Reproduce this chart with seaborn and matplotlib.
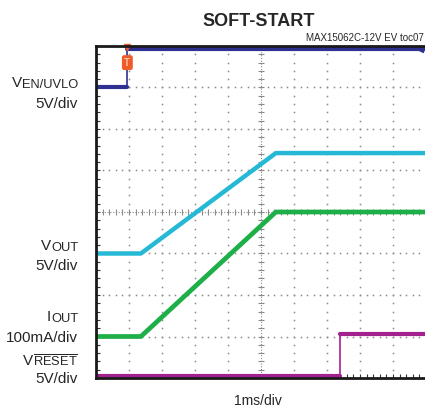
import numpy as np
import pandas as pd
import matplotlib.pyplot as plt
import seaborn as sns

# time in ms (1ms/div), trace levels in screen divisions (8 divisions tall)
ven_time = [0.0, 0.95, 0.95, 9.97]
ven_level = [7.0, 7.0, 7.93, 7.93]
vout_time = [0.0, 1.36, 5.45, 9.97]
vout_level = [3.0, 3.0, 5.42, 5.42]
iout_time = [0.0, 1.36, 5.45, 9.97]
iout_level = [1.0, 1.0, 4.0, 4.0]
reset_time = [0.0, 7.39, 7.39, 9.97]
reset_level = [0.06, 0.06, 1.06, 1.06]

c_ven = "#2E3192"
c_vout = "#25B9D5"
c_iout = "#1EAF48"
c_reset = "#A3218E"
c_grid = "#8A8A8A"

sns.set_style("white")
plt.rcParams["font.family"] = ["Liberation Sans", "DejaVu Sans"]

W, H = 425, 411
fig = plt.figure(figsize=(W / 100, H / 100), dpi=100)
ax = fig.add_axes([96 / W, 33 / H, 329 / W, 332 / H])
x_max = 329 / 33
ax.set_xlim(0, x_max)
ax.set_ylim(0, 8)

# scope graticule: dotted grid, center crosshair with small ticks
fine_x = np.arange(0.2, x_max, 0.2)
fine_y = np.arange(0.2, 8, 0.2)
for gx in range(1, 10):
    if gx == 5:
        continue
    ax.plot(np.full(len(fine_y), gx), fine_y, ls="none", marker="s", ms=1.1,
            mew=0, color=c_grid)
for gy in range(1, 8):
    if gy == 4:
        continue
    ax.plot(fine_x, np.full(len(fine_x), gy), ls="none", marker="s", ms=1.1,
            mew=0, color=c_grid)
ax.axvline(5, ls=(0, (1, 1.5)), lw=0.8, color=c_grid)
ax.axhline(4, ls=(0, (1, 1.5)), lw=0.8, color=c_grid)
ax.plot(np.full(len(fine_y), 5), fine_y, ls="none", marker="_", ms=5, mew=0.8, color=c_grid)
ax.plot(fine_x, np.full(len(fine_x), 4), ls="none", marker="|", ms=5, mew=0.8, color=c_grid)

# ramp traces
sns.lineplot(x=vout_time, y=vout_level, color=c_vout, lw=3.2, sort=False,
             estimator=None, ax=ax)
sns.lineplot(x=iout_time, y=iout_level, color=c_iout, lw=3.4, sort=False,
             estimator=None, ax=ax)

# step traces: thick levels, thin edges
for t, v, c in [(ven_time, ven_level, c_ven), (reset_time, reset_level, c_reset)]:
    sns.lineplot(x=t[:2], y=v[:2], color=c, lw=3, estimator=None, ax=ax)
    sns.lineplot(x=t[2:], y=v[2:], color=c, lw=3, estimator=None, ax=ax)
    ax.vlines(t[1], v[1], v[2], color=c, lw=1.2)

# trigger marker and channel arrow
ax.annotate("T", xy=(ven_time[1], 7.6), ha="center", va="center", fontsize=7,
            color="#FBC4A8", fontweight="bold",
            bbox=dict(boxstyle="round,pad=0.18", fc="#F05A28", ec="#F05A28"))
ax.plot([ven_time[1]], [7.98], marker="v", ms=4.5, color="#F05A28", clip_on=False)
ax.plot([9.82], [ven_level[-1]], marker="<", ms=5, color=c_ven)

ax.set_xticks(range(0, 10))
ax.set_yticks(range(0, 9))
ax.set_xticks(fine_x, minor=True)
ax.set_yticks(fine_y, minor=True)
ax.tick_params(which="both", direction="in", length=3, width=0.8, color="#333333",
               labelbottom=False, labelleft=False, bottom=True, left=True)
ax.set_xlabel("")
ax.set_ylabel("")
for side in ["left", "bottom", "top"]:
    ax.spines[side].set_color("#1A1A1A")
    ax.spines[side].set_linewidth(2)
ax.spines["right"].set_visible(False)

# titles
fig.text(259 / W, 1 - 21 / H, "SOFT-START", ha="center", va="center", fontsize=13,
         fontweight="bold")
fig.text(424 / W, 1 - 41 / H, "MAX15062C-12V EV toc07", ha="right", va="baseline",
         fontsize=7)
fig.text(258 / W, 1 - 401 / H, "1ms/div", ha="center", va="center", fontsize=10)

renderer = fig.canvas.get_renderer()


def channel_label(main, sub, base_y, x_right=78):
    t_sub = fig.text(x_right / W, 1 - base_y / H, sub, fontsize=9.3, ha="right",
                     va="baseline")
    w = t_sub.get_window_extent(renderer).width
    fig.text((x_right - w) / W, 1 - (base_y - 1) / H, main, fontsize=11,
             ha="right", va="baseline")


def plain_label(text, base_y, x_right=78):
    fig.text(x_right / W, 1 - base_y / H, text, fontsize=11, ha="right", va="baseline")


channel_label("V", "EN/UVLO", 88)
plain_label("5V/div", 108)
channel_label("V", "OUT", 251)
plain_label("5V/div", 270)
channel_label("I", "OUT", 322)
plain_label("100mA/div", 342)
channel_label("V", r"$\mathregular{\overline{RESET}}$", 366)
plain_label("5V/div", 383)

fig.savefig("out.png", dpi=100)
plt.close(fig)
